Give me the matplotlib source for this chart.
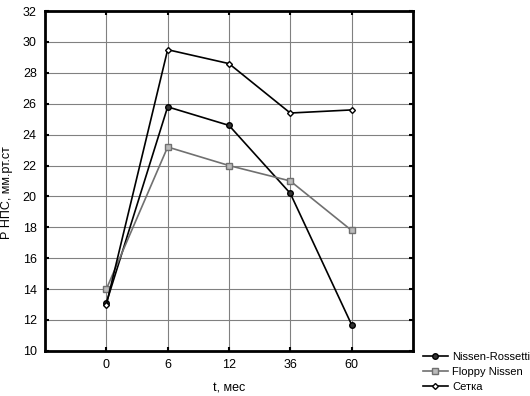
import matplotlib
matplotlib.use("Agg")
from matplotlib import pyplot as plt

plt.rcParams['font.family'] = ['Liberation Sans', 'DejaVu Sans']

# сроки наблюдения
months = ["0", "6", "12", "36", "60"]
nissen_rossetti = [13.1, 25.8, 24.6, 20.2, 11.7]
floppy_nissen = [14.0, 23.2, 22.0, 21.0, 17.8]
setka = [13.0, 29.5, 28.6, 25.4, 25.6]

fig = plt.figure(figsize=(5.3, 3.96), dpi=100)
ax = fig.add_axes([0.085, 0.114, 0.694, 0.858])

x = range(len(months))
ax.plot(x, nissen_rossetti, color="black", lw=1.2, marker="o", ms=4,
        mfc="#333333", mec="black", label="Nissen-Rossetti")
ax.plot(x, floppy_nissen, color="#707070", lw=1.2, marker="s", ms=4,
        mfc="#bbbbbb", mec="#707070", label="Floppy Nissen")
ax.plot(x, setka, color="black", lw=1.2, marker="D", ms=3,
        mfc="white", mec="black", label="Сетка")

ax.set_xlim(-1, 5)
ax.set_ylim(10, 32)
ax.set_xticks(list(x))
ax.set_xticklabels(months)
ax.set_yticks(range(10, 33, 2))
ax.grid(True, color="#808080", lw=0.8)
ax.set_axisbelow(True)
ax.tick_params(direction="in", length=3, width=1.5, labelsize=9,
               top=True, right=True, pad=6)
for s in ax.spines.values():
    s.set_linewidth(2)

ax.set_xlabel("t, мес", fontsize=9, labelpad=8)
ax.set_ylabel("Р НПС, мм.рт.ст", fontsize=9)
ax.yaxis.set_label_coords(-0.088, 0.466)

ax.legend(loc="lower left", bbox_to_anchor=(1.01, -0.14), frameon=False,
          fontsize=8, handlelength=2.2, borderaxespad=0.2, labelspacing=0.45,
          handletextpad=0.4)

fig.savefig("out.png", dpi=100)
